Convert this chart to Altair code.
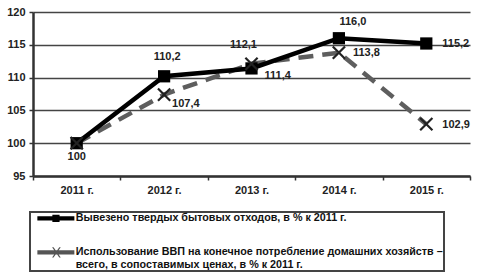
import altair as alt
import pandas as pd

years = ["2011 г.", "2012 г.", "2013 г.", "2014 г.", "2015 г."]
waste = [100.0, 110.2, 111.4, 116.0, 115.2]
gdp = [100.0, 107.4, 112.1, 113.8, 102.9]
y_ticks = [95, 100, 105, 110, 115, 120]
s1 = "Вывезено твердых бытовых отходов, в % к 2011 г."
s2 = ("Использование ВВП на конечное потребление домашних хозяйств – "
      "всего, в сопоставимых ценах, в % к 2011 г.")

rows = []
for i, yr in enumerate(years):
    rows.append({"year": yr, "value": waste[i], "series": s1, "idx": i})
    rows.append({"year": yr, "value": gdp[i], "series": s2, "idx": i})
df = pd.DataFrame(rows)


def fmt(v):
    return "100" if v == 100 else f"{v:.1f}".replace(".", ",")


df["label"] = [fmt(v) for v in df["value"]]

# label placement: (series, index, dx, dy, align)
placements = [
    (s1, 0, 0, 14, "center"),
    (s1, 1, 3, -19, "center"),
    (s1, 2, 13, 8, "left"),
    (s1, 3, 14, -16, "center"),
    (s1, 4, 16, 1, "left"),
    (s2, 1, 8, 9, "left"),
    (s2, 2, -8, -19, "center"),
    (s2, 3, 14, 0, "left"),
    (s2, 4, 16, 1, "left"),
]

FONT = "Liberation Sans"

x_enc = alt.X(
    "year:N",
    sort=years,
    scale=alt.Scale(type="band", domain=years, paddingInner=0, paddingOuter=0),
    axis=alt.Axis(
        title=None, labelAngle=0, tickBand="extent", grid=False,
        domainColor="#333", domainWidth=2.5, tickColor="#333", tickWidth=1.5,
        tickSize=4, labelFont=FONT, labelFontSize=11, labelFontWeight="bold",
        labelColor="#222", labelPadding=4,
    ),
)
y_enc = alt.Y(
    "value:Q",
    scale=alt.Scale(domain=[95, 120], nice=False, zero=False),
    axis=alt.Axis(
        title=None, values=y_ticks, format="d", grid=True, gridColor="#444",
        gridWidth=1.5, domainColor="#333", domainWidth=2.5, tickColor="#333",
        tickWidth=1.5, tickSize=4, labelFont=FONT, labelFontSize=11,
        labelFontWeight="bold", labelColor="#222", labelPadding=4,
    ),
)

base = alt.Chart(df).encode(x=x_enc, y=y_enc)

line2 = base.transform_filter(alt.datum.series == s2).mark_line(
    color="#5e5e5e", strokeWidth=4.5, strokeDash=[15, 9]
)
line1 = base.transform_filter(alt.datum.series == s1).mark_line(
    color="#000000", strokeWidth=4.5
)
pts1 = base.transform_filter(alt.datum.series == s1).mark_point(
    shape="square", filled=True, color="#000000", size=150, opacity=1
)
pts2 = base.transform_filter(alt.datum.series == s2).mark_point(
    shape="M-1,-1L1,1M-1,1L1,-1", filled=False, color="#222222",
    size=150, strokeWidth=2.2, opacity=1
)

text_layers = []
for ser, i, dx, dy, al in placements:
    text_layers.append(
        base.transform_filter(
            (alt.datum.series == ser) & (alt.datum.idx == i)
        ).mark_text(
            dx=dx, dy=dy, align=al, baseline="middle", font=FONT,
            fontSize=11, fontWeight="bold", color="#222"
        ).encode(text="label:N")
    )

# legend-only layer (no marks drawn; legend built from explicit scale domain)
path1 = ("M0.33,-0.7H12.67V0.7H0.33Z"
         "M5.33,-1.2H7.73V1.2H5.33Z")
path2 = ("M0.33,-0.7H12.67V0.7H0.33Z"
         "M5.23,-1.7L5.73,-1.7L8.13,1.7L7.63,1.7Z"
         "M7.63,-1.7L8.13,-1.7L5.73,1.7L5.23,1.7Z")
leg = alt.Legend(
    title=None, orient="none", legendX=-3, legendY=200,
    labelExpr="split(replace(datum.label, '– ', '–|'), '|')",
)
legend_layer = alt.Chart(df).transform_filter("false").mark_point(
    filled=True, opacity=1
).encode(
    x=x_enc, y=y_enc,
    shape=alt.Shape("series:N", scale=alt.Scale(domain=[s1, s2], range=[path1, path2]), legend=leg),
    color=alt.Color("series:N", scale=alt.Scale(domain=[s1, s2], range=["#000000", "#555555"]), legend=leg),
)

chart = alt.layer(
    line2, line1, pts1, pts2, *text_layers, legend_layer
).properties(
    width=437, height=164,
    autosize=alt.AutoSizeParams(type="none"),
    padding={"left": 33, "top": 12, "right": 10, "bottom": 100},
).configure_view(
    stroke=None
).configure_legend(
    strokeColor="#444", strokeWidth=2, padding=1, rowPadding=22,
    symbolSize=36, symbolStrokeWidth=0, labelOffset=34,
    labelFont=FONT, labelFontSize=10.75, labelFontWeight="bold",
    labelColor="#111", labelLimit=600, labelBaseline="middle",
)

chart.save("out.html", embed_options={"renderer": "svg", "actions": False})
